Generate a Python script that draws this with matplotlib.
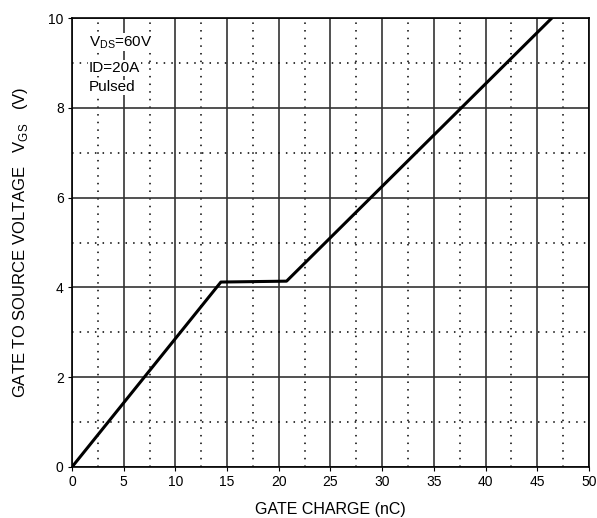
import numpy as np
import matplotlib
matplotlib.use("Agg")
import matplotlib.pyplot as plt
from matplotlib.ticker import MultipleLocator

plt.rcParams['font.family'] = ['Liberation Sans', 'DejaVu Sans']

# gate charge curve (nC, V)
qg = [0, 14.4, 20.75, 46.4]
vgs = [0, 4.12, 4.14, 10]

x_ticks = [0, 5, 10, 15, 20, 25, 30, 35, 40, 45, 50]
y_ticks = [0, 2, 4, 6, 8, 10]
cond_lines = [r"V$_{\mathregular{DS}}$=60V", "ID=20A", "Pulsed"]
cond_y = [9.38, 8.80, 8.37]

fig = plt.figure(figsize=(5.97, 5.18), dpi=100)
ax = fig.add_axes([0.1206, 0.0985, 0.866, 0.8665])

ax.set_xlim(0, 50)
ax.set_ylim(0, 10)
ax.set_xticks(x_ticks)
ax.set_yticks(y_ticks)
ax.xaxis.set_minor_locator(MultipleLocator(2.5))
ax.yaxis.set_minor_locator(MultipleLocator(1))

ax.grid(which='major', color='#333333', linestyle='-', linewidth=1.2)
ax.grid(which='minor', color='black', linestyle=(0, (1, 4)), linewidth=1.1)
ax.tick_params(which='major', direction='out', length=3, width=0.8, labelsize=10, pad=3)
ax.tick_params(which='minor', length=0)
for s in ax.spines.values():
    s.set_linewidth(1.2)
    s.set_color('black')

ax.plot(qg, vgs, color='black', linewidth=2.2, zorder=5)

ax.set_xlabel("GATE CHARGE (nC)", fontsize=11.5, labelpad=9)
ax.set_ylabel(r"GATE TO SOURCE VOLTAGE   V$_{\mathregular{GS}}$   (V)", fontsize=12, labelpad=13)

for t, yy in zip(cond_lines, cond_y):
    ax.text(1.6, yy, t, fontsize=11, va='baseline', ha='left', zorder=6,
            bbox=dict(facecolor='white', edgecolor='none', pad=0.5))

fig.savefig("out.png", dpi=100)
